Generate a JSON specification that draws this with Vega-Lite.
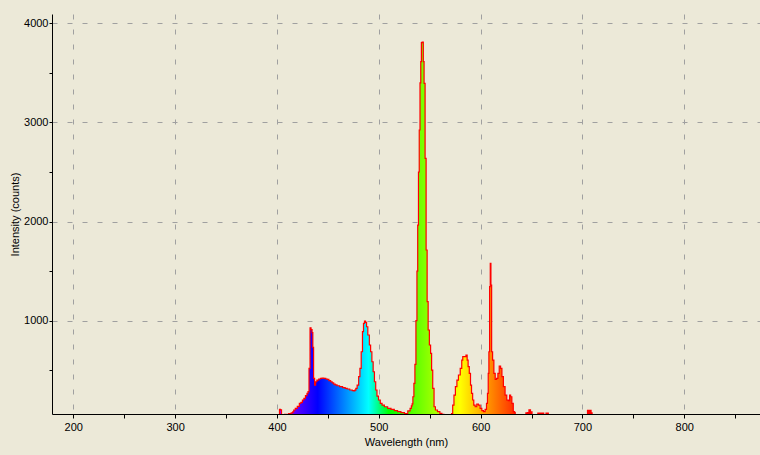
{
  "$schema": "https://vega.github.io/schema/vega-lite/v6.json",
  "autosize": "none",
  "width": 708,
  "height": 400,
  "padding": {"left": 52, "top": 14, "right": 0, "bottom": 41},
  "background": "#ECE9D8",
  "config": {
    "view": {"stroke": null},
    "font": "Liberation Sans",
    "axis": {
      "labelFont": "Liberation Sans",
      "labelFontSize": 11,
      "labelColor": "#000000",
      "titleFont": "Liberation Sans",
      "titleFontSize": 11,
      "titleFontWeight": "normal",
      "titleColor": "#000000",
      "domainColor": "#000000",
      "domainWidth": 1,
      "tickColor": "#000000",
      "tickWidth": 1,
      "tickSize": 4,
      "gridColor": "#A0A0A0",
      "gridDash": [5, 10],
      "gridWidth": 1
    }
  },
  "data": {
    "values": [
      {"wl": 400, "counts": 50},
      {"wl": 402, "counts": 50},
      {"wl": 403, "counts": 106},
      {"wl": 404, "counts": 100},
      {"wl": 405, "counts": 50},
      {"wl": 410, "counts": 55},
      {"wl": 413, "counts": 62},
      {"wl": 415, "counts": 70},
      {"wl": 416, "counts": 80},
      {"wl": 417, "counts": 99},
      {"wl": 419, "counts": 115},
      {"wl": 421, "counts": 135},
      {"wl": 423, "counts": 165},
      {"wl": 424, "counts": 176},
      {"wl": 426, "counts": 200},
      {"wl": 427, "counts": 217},
      {"wl": 429, "counts": 245},
      {"wl": 430, "counts": 267},
      {"wl": 431, "counts": 285},
      {"wl": 432, "counts": 520},
      {"wl": 433, "counts": 929},
      {"wl": 434, "counts": 910},
      {"wl": 435, "counts": 880},
      {"wl": 435.5, "counts": 731},
      {"wl": 436.5, "counts": 419},
      {"wl": 437.5, "counts": 351},
      {"wl": 438.5, "counts": 384},
      {"wl": 440, "counts": 401},
      {"wl": 442, "counts": 412},
      {"wl": 443.5, "counts": 419},
      {"wl": 445, "counts": 420},
      {"wl": 447, "counts": 419},
      {"wl": 449, "counts": 412},
      {"wl": 450, "counts": 409},
      {"wl": 452, "counts": 395},
      {"wl": 453.5, "counts": 384},
      {"wl": 455, "counts": 372},
      {"wl": 456.5, "counts": 361},
      {"wl": 458, "counts": 352},
      {"wl": 460, "counts": 344},
      {"wl": 463, "counts": 334},
      {"wl": 466, "counts": 324},
      {"wl": 468, "counts": 318},
      {"wl": 470, "counts": 311},
      {"wl": 473, "counts": 301},
      {"wl": 475, "counts": 295},
      {"wl": 476, "counts": 291},
      {"wl": 477, "counts": 300},
      {"wl": 478, "counts": 318},
      {"wl": 479.5, "counts": 351},
      {"wl": 481, "counts": 435},
      {"wl": 482, "counts": 520},
      {"wl": 483.5, "counts": 687},
      {"wl": 484.5, "counts": 889},
      {"wl": 485.5, "counts": 974},
      {"wl": 486.5, "counts": 997},
      {"wl": 487.5, "counts": 984},
      {"wl": 488.5, "counts": 939},
      {"wl": 490, "counts": 856},
      {"wl": 491.5, "counts": 755},
      {"wl": 492.5, "counts": 687},
      {"wl": 494, "counts": 586},
      {"wl": 495, "counts": 485},
      {"wl": 496.5, "counts": 384},
      {"wl": 497.5, "counts": 301},
      {"wl": 499, "counts": 240},
      {"wl": 500.5, "counts": 200},
      {"wl": 502.5, "counts": 166},
      {"wl": 504, "counts": 149},
      {"wl": 507, "counts": 132},
      {"wl": 510.5, "counts": 116},
      {"wl": 513.5, "counts": 106},
      {"wl": 517, "counts": 92},
      {"wl": 520, "counts": 82},
      {"wl": 523.5, "counts": 72},
      {"wl": 527, "counts": 62},
      {"wl": 530, "counts": 90},
      {"wl": 531.5, "counts": 116},
      {"wl": 532.5, "counts": 140},
      {"wl": 533, "counts": 160},
      {"wl": 534, "counts": 233},
      {"wl": 535, "counts": 368},
      {"wl": 536, "counts": 560},
      {"wl": 537, "counts": 1000},
      {"wl": 538, "counts": 1500},
      {"wl": 538.5, "counts": 1965},
      {"wl": 539.5, "counts": 2500},
      {"wl": 540, "counts": 2924},
      {"wl": 541, "counts": 3400},
      {"wl": 541.5, "counts": 3613},
      {"wl": 542.2, "counts": 3805},
      {"wl": 543, "counts": 3810},
      {"wl": 543.5, "counts": 3810},
      {"wl": 544, "counts": 3613},
      {"wl": 545, "counts": 3395},
      {"wl": 546, "counts": 2638},
      {"wl": 547, "counts": 1713},
      {"wl": 548, "counts": 1192},
      {"wl": 549, "counts": 906},
      {"wl": 550.4, "counts": 755},
      {"wl": 551.4, "counts": 671},
      {"wl": 552.4, "counts": 502},
      {"wl": 553.6, "counts": 318},
      {"wl": 555, "counts": 132},
      {"wl": 556.3, "counts": 99},
      {"wl": 559, "counts": 82},
      {"wl": 561, "counts": 66},
      {"wl": 563, "counts": 55},
      {"wl": 565, "counts": 50},
      {"wl": 571, "counts": 50},
      {"wl": 572, "counts": 62},
      {"wl": 573.2, "counts": 149},
      {"wl": 574.5, "counts": 250},
      {"wl": 576, "counts": 334},
      {"wl": 577.5, "counts": 401},
      {"wl": 579, "counts": 452},
      {"wl": 581, "counts": 520},
      {"wl": 582, "counts": 603},
      {"wl": 583, "counts": 637},
      {"wl": 585, "counts": 637},
      {"wl": 586.3, "counts": 654},
      {"wl": 587.3, "counts": 603},
      {"wl": 588.2, "counts": 536},
      {"wl": 589.6, "counts": 469},
      {"wl": 590.6, "counts": 351},
      {"wl": 591.6, "counts": 267},
      {"wl": 592.8, "counts": 200},
      {"wl": 593.8, "counts": 149},
      {"wl": 595.5, "counts": 132},
      {"wl": 597, "counts": 159},
      {"wl": 598.7, "counts": 149},
      {"wl": 600.4, "counts": 116},
      {"wl": 602, "counts": 92},
      {"wl": 603.6, "counts": 82},
      {"wl": 605.3, "counts": 106},
      {"wl": 606.3, "counts": 166},
      {"wl": 607.2, "counts": 267},
      {"wl": 607.8, "counts": 469},
      {"wl": 608.5, "counts": 687},
      {"wl": 609.2, "counts": 1343},
      {"wl": 609.8, "counts": 1579},
      {"wl": 610.5, "counts": 1360},
      {"wl": 611.2, "counts": 687},
      {"wl": 612.4, "counts": 603},
      {"wl": 613.7, "counts": 469},
      {"wl": 615, "counts": 408},
      {"wl": 616.4, "counts": 419},
      {"wl": 617.6, "counts": 469},
      {"wl": 619, "counts": 543},
      {"wl": 620.3, "counts": 520},
      {"wl": 621.6, "counts": 435},
      {"wl": 623.2, "counts": 334},
      {"wl": 624.9, "counts": 250},
      {"wl": 626.5, "counts": 200},
      {"wl": 628, "counts": 193},
      {"wl": 629, "counts": 250},
      {"wl": 630, "counts": 233},
      {"wl": 631.4, "counts": 166},
      {"wl": 632.8, "counts": 82},
      {"wl": 633.5, "counts": 75},
      {"wl": 634.5, "counts": 50},
      {"wl": 644, "counts": 50},
      {"wl": 645, "counts": 70},
      {"wl": 647, "counts": 72},
      {"wl": 648, "counts": 100},
      {"wl": 650, "counts": 80},
      {"wl": 651, "counts": 50},
      {"wl": 661.5, "counts": 68},
      {"wl": 662.5, "counts": 50},
      {"wl": 666, "counts": 68},
      {"wl": 667, "counts": 50},
      {"wl": 704.5, "counts": 50},
      {"wl": 705.5, "counts": 95},
      {"wl": 708, "counts": 95},
      {"wl": 709, "counts": 70},
      {"wl": 710, "counts": 50},
      {"wl": 712, "counts": 50}
    ]
  },
  "encoding": {
    "x": {
      "field": "wl",
      "type": "quantitative",
      "scale": {"domain": [179.1, 874.4], "nice": false, "zero": false},
      "axis": {
        "title": "Wavelength (nm)",
        "values": [200, 250, 300, 350, 400, 450, 500, 550, 600, 650, 700, 750, 800, 850],
        "format": "d",
        "labelExpr": "datum.value % 100 === 0 ? datum.label : ''",
        "gridOpacity": {"condition": {"test": "datum.value % 100 !== 0", "value": 0}, "value": 1},
        "labelPadding": 3,
        "titlePadding": 4,
        "grid": true
      }
    },
    "y": {
      "field": "counts",
      "type": "quantitative",
      "scale": {"domain": [58.8, 4094], "nice": false, "zero": false},
      "axis": {
        "title": "Intensity (counts)",
        "values": [500, 1000, 1500, 2000, 2500, 3000, 3500, 4000],
        "format": "d",
        "labelExpr": "datum.value % 1000 === 0 ? datum.label : ''",
        "gridOpacity": {"condition": {"test": "datum.value % 1000 !== 0", "value": 0}, "value": 1},
        "labelPadding": 1,
        "tickSize": 3,
        "titlePadding": 3,
        "grid": true
      }
    }
  },
  "layer": [
    {
      "mark": {
        "type": "area",
        "interpolate": "step",
        "clip": true,
        "color": {
          "gradient": "linear",
          "x1": 0, "y1": 0, "x2": 1, "y2": 0,
          "stops": [
            {"offset": 0, "color": "#AA00FF"},
            {"offset": 0.1282, "color": "#0000FF"},
            {"offset": 0.2885, "color": "#00FFFF"},
            {"offset": 0.3526, "color": "#00FF00"},
            {"offset": 0.5769, "color": "#FFFF00"},
            {"offset": 0.7853, "color": "#FF0000"},
            {"offset": 1, "color": "#FF0000"}
          ]
        }
      }
    },
    {
      "mark": {
        "type": "line",
        "interpolate": "step",
        "clip": true,
        "color": "#FF0000",
        "strokeWidth": 1.2
      }
    }
  ]
}
